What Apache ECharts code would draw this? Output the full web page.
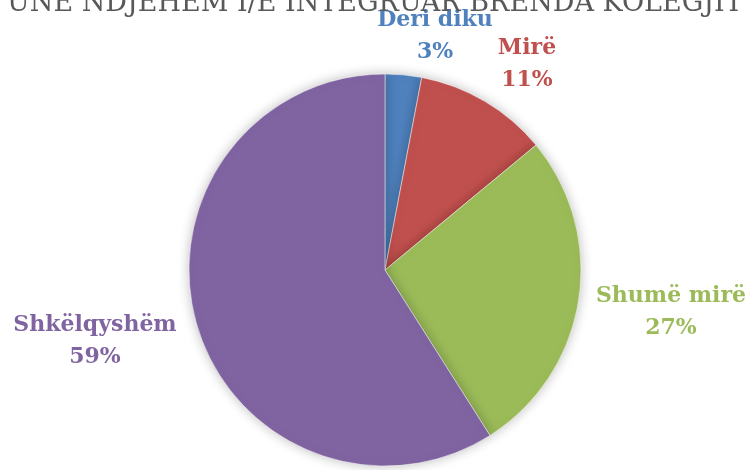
<!DOCTYPE html>
<html>
<head>
<meta charset="utf-8">
<script src="https://cdn.jsdelivr.net/npm/echarts@6/dist/echarts.min.js"></script>
<style>
  html, body { margin: 0; padding: 0; background: #fff; }
  #app { width: 750px; height: 470px; }
</style>
</head>
<body>
<div id="app"></div>
<script>
const titleText = 'UNË NDJEHEM I/E INTEGRUAR BRENDA KOLEGJIT';
const categories = ['Deri diku', 'Mirë', 'Shumë mirë', 'Shkëlqyshëm'];
const values = [3, 11, 27, 59];
const colors = ['#4F81BD', '#C0504D', '#9BBB59', '#8064A2'];

// label centre points, relative to the pie centre
const labelOffsets = [[50, -234], [142, -206], [286, 42], [-290, 71]];

const myChart = echarts.init(document.getElementById('app'));

const option = {
  backgroundColor: '#fff',
  title: {
    text: titleText,
    left: 2,
    top: -15,
    textStyle: {
      fontFamily: 'DejaVu Serif',
      fontWeight: 'normal',
      fontSize: 27,
      color: '#595959'
    }
  },
  series: [{
    type: 'pie',
    center: [385, 270],
    radius: 196,
    startAngle: 90,
    clockwise: true,
    silent: true,
    animation: false,
    data: categories.map((name, i) => ({
      name,
      value: values[i],
      itemStyle: { color: colors[i] },
      label: { color: colors[i] }
    })),
    itemStyle: {
      borderColor: '#fff',
      borderWidth: 0.5,
      shadowBlur: 12,
      shadowColor: 'rgba(0,0,0,0.25)'
    },
    label: {
      show: true,
      position: 'outside',
      formatter: p => `${p.name}\n${p.value}%`,
      fontFamily: 'DejaVu Serif',
      fontWeight: 'bold',
      fontSize: 22,
      lineHeight: 32,
      align: 'center',
      overflow: 'none'
    },
    labelLine: { show: false },
    labelLayout: params => {
      const off = labelOffsets[params.dataIndex];
      return {
        x: 385 + off[0],
        y: 270 + off[1],
        align: 'center',
        verticalAlign: 'middle',
        hideOverlap: false
      };
    }
  }]
};

myChart.setOption(option);
</script>
</body>
</html>
